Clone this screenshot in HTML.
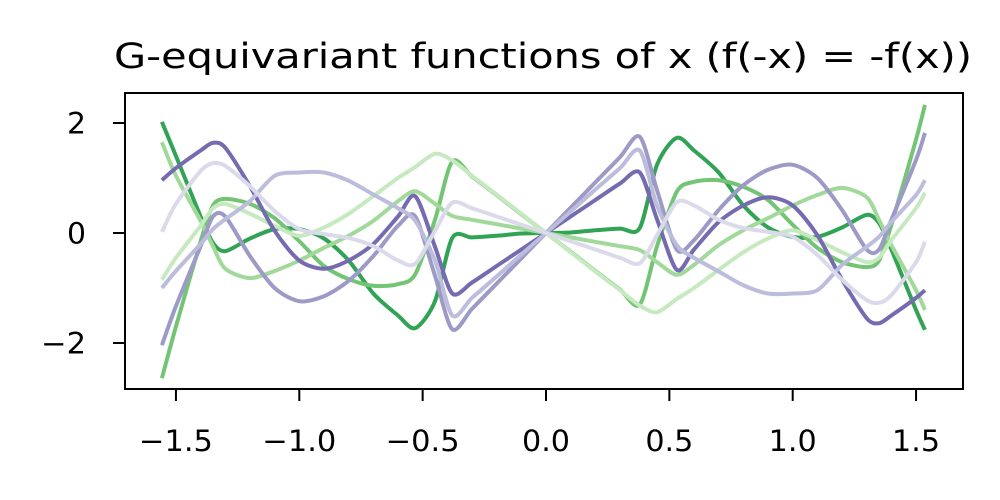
<!DOCTYPE html>
<html><head><meta charset="utf-8"><style>
html,body{margin:0;padding:0;background:#fff;}
svg{display:block;font-family:"DejaVu Sans","Liberation Sans",sans-serif;}
</style></head><body>
<svg id="chart" width="1000" height="500" viewBox="0 0 1000 500" xmlns="http://www.w3.org/2000/svg">
<text x="543" y="68" font-size="35" text-anchor="middle" textLength="858" lengthAdjust="spacingAndGlyphs" fill="#000">G-equivariant functions of x (f(-x) = -f(x))</text>
<g id="plot"></g>
<rect x="125" y="93" width="838" height="296" fill="none" stroke="#000" stroke-width="2"/>
<g id="ticks"></g>
</svg>
<script>
const halfX = [0,0.1,0.2,0.3,0.38,0.45,0.53,0.6,0.7,0.8,0.9,1.0,1.1,1.2,1.3,1.35,1.4,1.5];
const xRightEnd = 1.536;
const xLeftEnd = -1.557;
const seriesNames = ['green-1','green-2','green-3','green-4','purple-1','purple-2','purple-3','purple-4'];
const seriesColors = ['#31a354','#74c476','#a1d99b','#c7e9c0','#756bb1','#9e9ac8','#bcbddc','#dadaeb'];
const g1 = [0,0.01,0.05,0.08,0.09,1.24,1.73,1.5,1.1,0.5,0.1,-0.07,-0.07,0.1,0.33,0.18,-0.3,-1.4];
const g2 = [0,-0.34,-0.69,-1.03,-1.3,-0.24,0.75,0.93,0.96,0.84,0.6,0.15,-0.27,-0.53,-0.62,-0.5,0.15,1.7];
const g3 = [0,-0.08,-0.16,-0.24,-0.31,-0.53,-0.76,-0.58,-0.22,0.05,0.27,0.5,0.69,0.82,0.65,0.24,-0.22,-1.04];
const g4 = [0,-0.35,-0.7,-1.04,-1.32,-1.44,-1.2,-1.0,-0.67,-0.35,-0.1,0.05,-0.13,-0.35,-0.53,-0.45,-0.13,0.45];
const p1 = [0,0.3,0.6,0.9,1.1,0.25,-0.67,-0.3,0.2,0.5,0.65,0.5,-0.04,-0.85,-1.55,-1.64,-1.5,-1.18];
const p2 = [0,0.46,0.92,1.38,1.75,0.78,-0.3,-0.13,0.42,0.87,1.15,1.24,1.0,0.42,-0.3,-0.3,0.24,1.33];
const p3 = [0,0.39,0.79,1.18,1.5,0.5,-0.22,-0.45,-0.7,-0.95,-1.1,-1.1,-1.04,-0.58,-0.25,-0.07,0.2,0.69];
const p4 = [0,-0.15,-0.3,-0.45,-0.55,-0.04,0.56,0.5,0.24,0.09,0.02,-0.07,-0.4,-0.85,-1.22,-1.27,-1.13,-0.53];
const rightEnds = [-1.76,2.33,-1.4,0.73,-1.04,1.82,0.96,-0.16];
const leftEnds = [2.02,-2.64,1.65,-0.85,0.96,-2.04,-1.0,0.02];
const xTicks = [-1.5,-1.0,-0.5,0.0,0.5,1.0,1.5];
const xTickLabels = ['\u22121.5','\u22121.0','\u22120.5','0.0','0.5','1.0','1.5'];
const yTicks = [-2,0,2];
const yTickLabels = ['\u22122','0','2'];

const NS='http://www.w3.org/2000/svg';
function xs(v){return 546+246.7*v;}
function ys(v){return 233-55*v;}
function labelWidth(s){let w=0;for(const c of s){w+= c==='\u2212'?26:(c==='.'?10:19);}return w;}
const all=[g1,g2,g3,g4,p1,p2,p3,p4];
const plot=document.getElementById('plot');
function pathFrom(pts){
  let d='M'+pts[0][0].toFixed(2)+','+pts[0][1].toFixed(2);
  for(let i=0;i<pts.length-1;i++){
    const p0=pts[i-1]||pts[i],p1_=pts[i],p2_=pts[i+1],p3_=pts[i+2]||p2_;
    const t=0.14;
    const c1x=p1_[0]+(p2_[0]-p0[0])*t,c1y=p1_[1]+(p2_[1]-p0[1])*t;
    const c2x=p2_[0]-(p3_[0]-p1_[0])*t,c2y=p2_[1]-(p3_[1]-p1_[1])*t;
    d+=' C'+c1x.toFixed(2)+','+c1y.toFixed(2)+' '+c2x.toFixed(2)+','+c2y.toFixed(2)+' '+p2_[0].toFixed(2)+','+p2_[1].toFixed(2);
  }
  return d;
}
all.forEach((vals,k)=>{
  const pts=[[xs(xLeftEnd),ys(leftEnds[k])]];
  for(let i=halfX.length-1;i>0;i--) pts.push([xs(-halfX[i]),ys(-vals[i])]);
  for(let i=0;i<halfX.length;i++) pts.push([xs(halfX[i]),ys(vals[i])]);
  pts.push([xs(xRightEnd),ys(rightEnds[k])]);
  const p=document.createElementNS(NS,'path');
  p.setAttribute('d',pathFrom(pts));
  p.setAttribute('fill','none');
  p.setAttribute('stroke',seriesColors[k]);
  p.setAttribute('stroke-width','4');
  p.setAttribute('stroke-linejoin','round');
  
  
  plot.appendChild(p);
});
const tg=document.getElementById('ticks');
xTicks.forEach((v,i)=>{
  const l=document.createElementNS(NS,'line');
  l.setAttribute('x1',xs(v));l.setAttribute('x2',xs(v));l.setAttribute('y1',389);l.setAttribute('y2',401);
  l.setAttribute('stroke','#000');l.setAttribute('stroke-width','2');
  
  
  tg.appendChild(l);
  const t=document.createElementNS(NS,'text');
  t.setAttribute('x',xs(v));t.setAttribute('y',451);t.setAttribute('font-size','29');t.setAttribute('text-anchor','middle');
  t.setAttribute('textLength',labelWidth(xTickLabels[i]));t.setAttribute('lengthAdjust','spacingAndGlyphs');
  t.textContent=xTickLabels[i];
  
  
  tg.appendChild(t);
});
yTicks.forEach((v,i)=>{
  const l=document.createElementNS(NS,'line');
  l.setAttribute('x1',113);l.setAttribute('x2',125);l.setAttribute('y1',ys(v));l.setAttribute('y2',ys(v));
  l.setAttribute('stroke','#000');l.setAttribute('stroke-width','2');
  
  
  tg.appendChild(l);
  const t=document.createElementNS(NS,'text');
  t.setAttribute('x',86);t.setAttribute('y',ys(v)+10.5);t.setAttribute('font-size','29');t.setAttribute('text-anchor','end');
  t.setAttribute('textLength',labelWidth(yTickLabels[i]));t.setAttribute('lengthAdjust','spacingAndGlyphs');
  t.textContent=yTickLabels[i];
  
  
  tg.appendChild(t);
});
</script>
</body></html>
